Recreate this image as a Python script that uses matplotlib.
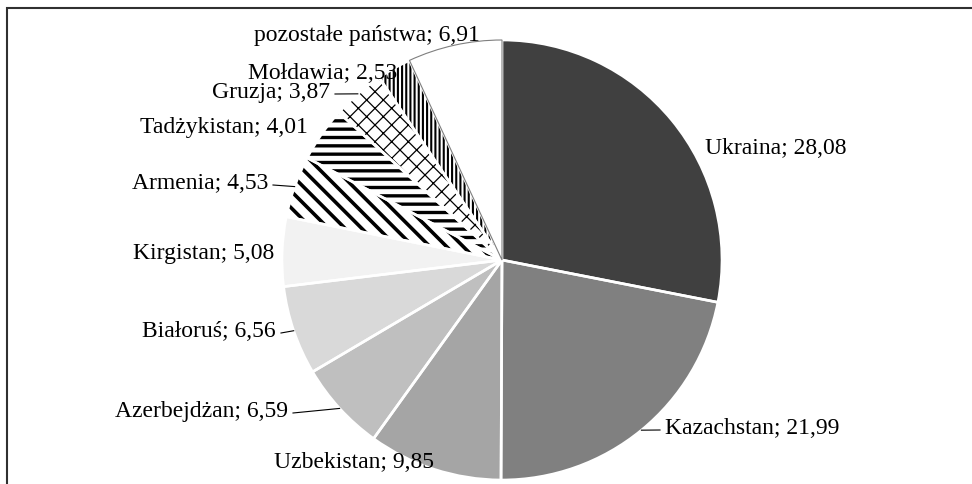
import numpy as np
import matplotlib
matplotlib.use("Agg")
import matplotlib.pyplot as plt

W, H = 972, 485

countries = ["Ukraina", "Kazachstan", "Uzbekistan", "Azerbejdżan", "Białoruś",
             "Kirgistan", "Armenia", "Tadżykistan", "Gruzja", "Mołdawia",
             "pozostałe państwa"]
shares = [28.08, 21.99, 9.85, 6.59, 6.56, 5.08, 4.53, 4.01, 3.87, 2.53, 6.91]

# fills: grey ramp for the big slices, hatches for the small ones
faces = ["#404040", "#808080", "#a5a5a5", "#bfbfbf", "#d9d9d9", "#f2f2f2",
         "white", "white", "white", "white", "white"]
hatches = [None, None, None, None, None, None, "\\\\", "--", "xx", "||||", None]
hatch_lw = [0, 0, 0, 0, 0, 0, 2.6, 2.4, 0.9, 1.5, 0]

# label anchor in pixels (x, baseline y from top), alignment, leader line?
label_pos = [(705, 154, "left", False), (665, 434, "left", True),
             (354, 468, "center", False), (288, 417, "right", True),
             (276, 337, "right", True), (274, 259, "right", False),
             (268, 189, "right", True), (308, 133, "right", False),
             (330, 98, "right", True), (397, 79, "right", False),
             (480, 41, "right", False)]

plt.rcParams.update({"font.family": ["Liberation Serif", "DejaVu Serif"],
                     "hatch.color": "black"})

fig = plt.figure(figsize=(W / 100, H / 100), dpi=100)
ax = fig.add_axes([0, 0, 1, 1])

cx, cy, R = 502, H - 261, 220
wedges, _ = ax.pie(shares, colors=faces, startangle=90, counterclock=False,
                   center=(cx, cy), radius=R, wedgeprops=dict(linewidth=0))
for w, h, hl in zip(wedges, hatches, hatch_lw):
    if h:
        w.set_hatch(h)
        w.set_edgecolor("black")
        w.set_linewidth(0)
        if hasattr(w, "set_hatch_linewidth"):
            w.set_hatch_linewidth(hl)

# white separators on top, thin grey outline for the last (white) slice
edges, _ = ax.pie(shares, colors=["none"] * len(shares), startangle=90,
                  counterclock=False, center=(cx, cy), radius=R,
                  wedgeprops=dict(linewidth=1.9, edgecolor="white"))
edges[-1].set_edgecolor("#7f7f7f")
edges[-1].set_linewidth(0.8)

for w, name, val, (x, y, ha, lead) in zip(wedges, countries, shares, label_pos):
    txt = f"{name}; {val:.2f}".replace(".", ",")
    ax.text(x, H - y, txt, ha=ha, va="baseline", fontsize=17, color="black")
    if lead:
        mid = np.deg2rad((w.theta1 + w.theta2) / 2)
        px, py = cx + R * np.cos(mid), cy + R * np.sin(mid)
        sx = x - 5 if ha == "left" else x + 5
        ax.plot([sx, px], [H - y + 3, py], color="black", lw=0.8)

# chart frame, cut off at the right and bottom edges
ax.plot([7, 7, W + 5], [-5, H - 9, H - 9], color="#303030", lw=1.5,
        solid_joinstyle="miter")

ax.set_xlim(0, W)
ax.set_ylim(0, H)
ax.set_aspect("equal")
ax.axis("off")
fig.savefig("out.png", dpi=100)
